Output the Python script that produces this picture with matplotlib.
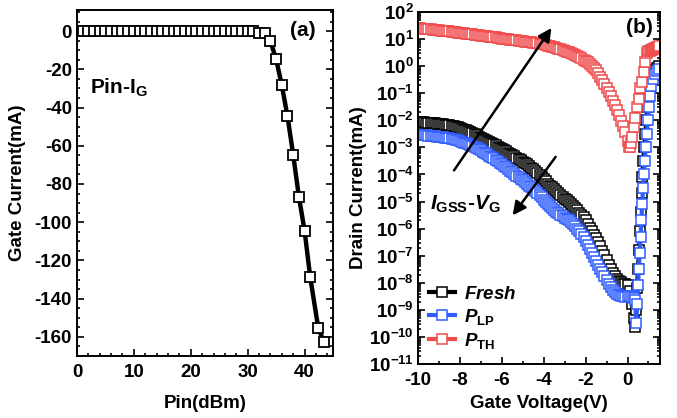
import numpy as np
import matplotlib
matplotlib.use('Agg')
import matplotlib.pyplot as plt
import matplotlib.ticker as ticker

plt.rcParams['font.family'] = 'Liberation Sans'
plt.rcParams['font.weight'] = 'bold'
plt.rcParams['mathtext.fontset'] = 'custom'
plt.rcParams['mathtext.rm'] = 'Liberation Sans:bold'
plt.rcParams['mathtext.it'] = 'Liberation Sans:bold:italic'
plt.rcParams['mathtext.bf'] = 'Liberation Sans:bold'
plt.rcParams['axes.unicode_minus'] = False

# ---- panel (a): Pin - IG ----
pin = [0, 1, 2, 3, 4, 5, 6, 7, 8, 9, 10, 11, 12, 13, 14, 15, 16, 17, 18, 19, 20,
       21, 22, 23, 24, 25, 26, 27, 28, 29, 30, 31, 32, 33, 34, 35, 36, 37, 38,
       39, 40, 41, 42.4, 43.4]
ig = [0.0, 0.0, 0.0, 0.0, 0.0, 0.0, 0.0, 0.0, 0.0, 0.0, 0.0, 0.0, 0.0, 0.0,
      0.0, 0.0, 0.0, 0.0, 0.0, 0.0, 0.0, 0.0, 0.0, 0.0, 0.0, 0.0, 0.0, 0.0,
      0.0, 0.0, 0.0, 0.0, -0.8, -1.0, -5.2, -14.8, -28.3, -44.6, -64.7, -86.6,
      -104.4, -128.9, -155.2, -162.7]

# ---- panel (b): IGSS - VG, log10 of current in mA ----
v_sweep = np.round(np.arange(-10.0, 0.05, 0.1), 1)   # -10.0 ... 0.0

fresh_sweep = [-2.07, -2.07, -2.08, -2.08, -2.09, -2.09, -2.10, -2.10, -2.11, -2.12,
               -2.13, -2.14, -2.15, -2.16, -2.17, -2.18, -2.20, -2.21, -2.23, -2.24,
               -2.28, -2.31, -2.34, -2.37, -2.41, -2.44, -2.48, -2.52, -2.56, -2.60,
               -2.64, -2.68, -2.72, -2.76, -2.80, -2.84, -2.89, -2.93, -2.97, -3.01,
               -3.06, -3.10, -3.15, -3.19, -3.24, -3.28, -3.33, -3.38, -3.43, -3.48,
               -3.53, -3.58, -3.63, -3.69, -3.75, -3.81, -3.88, -3.95, -4.02, -4.10,
               -4.18, -4.26, -4.34, -4.41, -4.48, -4.55, -4.62, -4.69, -4.75, -4.82,
               -4.89, -4.96, -5.03, -5.10, -5.17, -5.25, -5.33, -5.41, -5.49, -5.57,
               -5.70, -5.83, -5.96, -6.09, -6.22, -6.36, -6.50, -6.65, -6.81, -6.98,
               -7.15, -7.33, -7.50, -7.64, -7.76, -7.86, -7.93, -7.99, -8.03, -8.06,
               -8.10]
fresh_v_end = [0.1, 0.2, 0.3, 0.37, 0.40, 0.45, 0.50, 0.55, 0.59, 0.63, 0.67, 0.71,
               0.75, 0.80, 0.85, 0.90, 0.95, 1.00, 1.06, 1.13, 1.20, 1.30, 1.40, 1.50]
fresh_end = [-8.3, -8.8, -9.3, -9.63, -9.0, -8.2, -7.5, -6.8, -6.1, -5.4, -4.7, -4.1,
             -3.5, -3.0, -2.5, -2.0, -1.5, -1.1, -0.75, -0.45, -0.3, -0.15, -0.05, 0.0]

plp_sweep = [-2.54, -2.55, -2.55, -2.56, -2.56, -2.57, -2.58, -2.58, -2.59, -2.60,
             -2.61, -2.62, -2.63, -2.64, -2.65, -2.67, -2.68, -2.70, -2.72, -2.74,
             -2.76, -2.79, -2.82, -2.85, -2.88, -2.91, -2.95, -2.99, -3.03, -3.07,
             -3.11, -3.16, -3.21, -3.26, -3.31, -3.36, -3.41, -3.46, -3.51, -3.57,
             -3.62, -3.68, -3.74, -3.80, -3.86, -3.92, -3.98, -4.04, -4.10, -4.16,
             -4.22, -4.28, -4.35, -4.41, -4.48, -4.55, -4.62, -4.69, -4.76, -4.83,
             -4.94, -5.02, -5.10, -5.18, -5.25, -5.31, -5.37, -5.43, -5.49, -5.54,
             -5.59, -5.65, -5.70, -5.76, -5.83, -5.91, -6.00, -6.10, -6.20, -6.31,
             -6.45, -6.60, -6.75, -6.89, -7.04, -7.18, -7.33, -7.48, -7.62, -7.76,
             -7.90, -8.03, -8.15, -8.25, -8.33, -8.40, -8.45, -8.48, -8.50, -8.51,
             -8.50]
plp_v_end = [0.1, 0.2, 0.3, 0.36, 0.42, 0.46, 0.50, 0.54, 0.58, 0.62, 0.66, 0.70,
             0.74, 0.78, 0.82, 0.87, 0.92, 0.97, 1.02, 1.07, 1.13, 1.20, 1.30, 1.40, 1.50]
plp_end = [-8.48, -8.52, -8.55, -8.65, -9.47, -8.8, -8.1, -7.5, -6.9, -6.3, -5.7, -5.1,
           -4.5, -4.0, -3.5, -3.0, -2.5, -2.0, -1.5, -1.1, -0.75, -0.48, -0.3, -0.18, -0.1]

pth_sweep = [1.41, 1.40, 1.39, 1.38, 1.37, 1.37, 1.36, 1.35, 1.34, 1.33,
             1.32, 1.31, 1.30, 1.29, 1.28, 1.28, 1.27, 1.26, 1.25, 1.24,
             1.23, 1.22, 1.21, 1.20, 1.19, 1.18, 1.17, 1.16, 1.15, 1.14,
             1.13, 1.12, 1.11, 1.10, 1.09, 1.08, 1.07, 1.06, 1.04, 1.03,
             1.02, 1.01, 1.00, 0.99, 0.98, 0.97, 0.96, 0.95, 0.94, 0.93,
             0.92, 0.91, 0.90, 0.89, 0.88, 0.86, 0.85, 0.84, 0.83, 0.81,
             0.80, 0.78, 0.76, 0.74, 0.72, 0.70, 0.67, 0.65, 0.62, 0.59,
             0.57, 0.54, 0.51, 0.48, 0.45, 0.41, 0.37, 0.33, 0.29, 0.24,
             0.19, 0.14, 0.08, 0.01, -0.07, -0.16, -0.27, -0.39, -0.52, -0.66,
             -0.81, -0.96, -1.11, -1.27, -1.44, -1.62, -1.81, -2.01, -2.22, -2.44,
             -2.75]
pth_v_end = [0.05, 0.1, 0.15, 0.21, 0.29, 0.37, 0.45, 0.53, 0.61, 0.69, 0.77, 0.85,
             0.93, 1.0, 1.05, 1.1, 1.15, 1.2, 1.25, 1.3, 1.35, 1.4, 1.45, 1.5]
pth_end = [-3.0, -3.0, -2.85, -2.6, -2.24, -1.9, -1.5, -1.2, -0.8, -0.58, -0.2, 0.15,
           0.49, 0.55, 0.57, 0.59, 0.61, 0.63, 0.65, 0.66, 0.68, 0.70, 0.72, 0.74]

xticks_b = [-10, -8, -6, -4, -2, 0]
decades_b = list(range(-11, 3))

c_black = 'black'
c_blue = '#2f5cff'
c_red = '#f04a4a'

fig = plt.figure(figsize=(6.77, 4.18), dpi=100)
ax1 = fig.add_axes([0.1137, 0.1483, 0.3782, 0.8277])
ax2 = fig.add_axes([0.6174, 0.1292, 0.3575, 0.8421])

for ax in (ax1, ax2):
    for s in ax.spines.values():
        s.set_linewidth(1.4)
    ax.tick_params(which='both', direction='in', right=True, top=False,
                   width=1.2, labelsize=13.5)
    ax.tick_params(which='major', length=5)
    ax.tick_params(which='minor', length=2.5)
ax1.tick_params(axis='x', pad=6)
ax2.tick_params(axis='x', pad=6)
ax2.tick_params(axis='y', pad=3)

# panel a
ax1.plot(pin, ig, '-s', color=c_black, mfc='white', mec=c_black, ms=7.5, mew=1.3, lw=3.2)
ax1.set_xlim(0, 45)
ax1.set_ylim(-170, 11)
ax1.xaxis.set_major_locator(ticker.FixedLocator([0, 10, 20, 30, 40]))
ax1.xaxis.set_minor_locator(ticker.MultipleLocator(2))
ax1.yaxis.set_major_locator(ticker.FixedLocator([0, -20, -40, -60, -80, -100, -120, -140, -160]))
ax1.yaxis.set_minor_locator(ticker.MultipleLocator(5))
ax1.set_xlabel('Pin(dBm)', fontsize=13.5, fontweight='bold', labelpad=10)
ax1.set_ylabel('Gate Current(mA)', fontsize=13.5, fontweight='bold', labelpad=6)
ax1.text(0.05, 0.775, r'Pin-I$_\mathregular{G}$', transform=ax1.transAxes,
         fontsize=15, fontweight='bold', ha='left', va='center')
ax1.text(0.883, 0.942, '(a)', transform=ax1.transAxes, fontsize=15,
         fontweight='bold', ha='center', va='center')

# panel b
series = [('Fresh', fresh_sweep, fresh_v_end, fresh_end, c_black, r'$\mathit{Fresh}$'),
          ('PLP', plp_sweep, plp_v_end, plp_end, c_blue, r'$\mathit{P}_{\mathrm{LP}}$'),
          ('PTH', pth_sweep, pth_v_end, pth_end, c_red, r'$\mathit{P}_{\mathrm{TH}}$')]
for name, ys, ve, ye, col, lab in series:
    v = np.concatenate([v_sweep, ve])
    cur = 10 ** np.concatenate([ys, ye])
    ax2.semilogy(v, cur, '-s', color=col, mfc='white', mec=col, ms=6.5, mew=1.1,
                 lw=3, label=lab)

ax2.set_xlim(-10, 1.55)
ax2.set_ylim(1e-11, 1e2)
ax2.xaxis.set_major_locator(ticker.FixedLocator(xticks_b))
ax2.xaxis.set_minor_locator(ticker.FixedLocator([-9, -7, -5, -3, -1, 1]))
ax2.yaxis.set_major_locator(ticker.FixedLocator([10.0 ** d for d in decades_b]))
ax2.yaxis.set_minor_locator(ticker.FixedLocator(
    [k * 10.0 ** d for d in decades_b[:-1] for k in range(2, 10)]))
ax2.yaxis.set_minor_formatter(ticker.NullFormatter())
ax2.yaxis.set_major_formatter(ticker.FuncFormatter(
    lambda y, pos: r'$10^{%d}$' % int(round(np.log10(y)))))
ax2.set_xlabel('Gate Voltage(V)', fontsize=13.5, fontweight='bold', labelpad=4)
ax2.set_ylabel('Drain Current(mA)', fontsize=13.5, fontweight='bold', labelpad=1)

ax2.annotate('', xy=(-3.63, 10 ** 1.41), xytext=(-8.28, 10 ** -3.85),
             arrowprops=dict(arrowstyle='-|>', color='black', lw=1.8,
                             mutation_scale=20, shrinkA=0, shrinkB=0))
ax2.annotate('', xy=(-5.48, 10 ** -5.51), xytext=(-3.43, 10 ** -3.35),
             arrowprops=dict(arrowstyle='-|>', color='black', lw=1.8,
                             mutation_scale=20, shrinkA=0, shrinkB=0))
ax2.text(-9.45, 10 ** -5.1, r'$\mathit{I}_{\mathrm{GSS}}$-$\mathit{V}_{\mathrm{G}}$',
         fontsize=15, ha='left', va='center')
ax2.text(0.917, 0.957, '(b)', transform=ax2.transAxes, fontsize=15,
         fontweight='bold', ha='center', va='center')

leg = ax2.legend(loc='center left', bbox_to_anchor=(-0.01, 0.13), frameon=False,
                 fontsize=13.5, handlelength=1.4, handletextpad=0.5, labelspacing=0.2,
                 borderpad=0.2, numpoints=1)

fig.savefig('out.png', dpi=100)
